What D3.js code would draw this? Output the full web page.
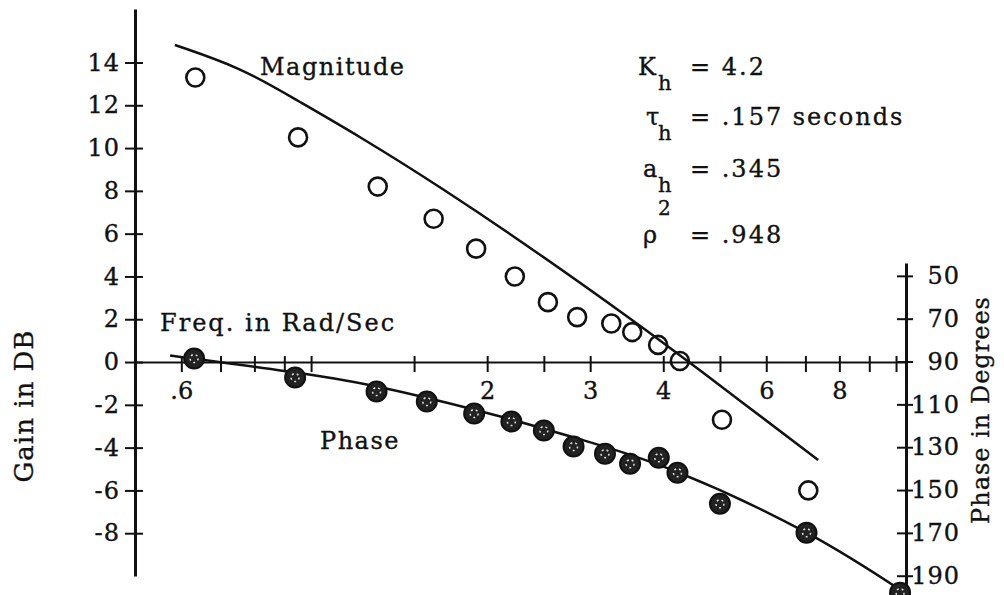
<!DOCTYPE html>
<html>
<head>
<meta charset="utf-8">
<script src="https://cdn.jsdelivr.net/npm/d3@7"></script>
<style>
body { margin: 0; background: #fff; }
svg { display: block; }
text { font-family: "DejaVu Serif", serif; fill: #111; stroke: #111; stroke-width: 0.35px; }
</style>
</head>
<body>
<div id="chart"></div>
<script>
// measured gain (open circles)
var gainFreq = [0.634, 0.95, 1.30, 1.62, 1.915, 2.23, 2.54, 2.85, 3.26, 3.54, 3.92, 4.27, 5.04, 7.08];
var gainDb   = [13.3, 10.5, 8.2, 6.7, 5.3, 4.0, 2.8, 2.1, 1.8, 1.4, 0.8, 0.05, -2.7, -6.0];
// measured phase (filled circles)
var phaseFreq = [0.631, 0.939, 1.294, 1.577, 1.90, 2.20, 2.50, 2.81, 3.18, 3.51, 3.93, 4.23, 5.00, 7.03, 10.16];
var phaseDeg  = [88.6, 97.5, 104.0, 108.7, 114.3, 118.0, 122.2, 129.7, 133.0, 137.7, 134.9, 141.9, 156.4, 169.9, 197.9];
// model curves
var fitGainFreq = [0.585, 0.76, 0.931, 1.212, 1.661, 2.462, 3.65, 4.44, 7.36];
var fitGainDb   = [14.82, 13.75, 12.34, 10.54, 8.20, 5.05, 1.71, -0.02, -4.58];
var fitPhaseFreq = [0.574, 0.992, 1.417, 2.107, 2.89, 4.21, 7.03, 10.28];
var fitPhaseDeg  = [87.2, 96.1, 104.0, 115.7, 126.4, 141.4, 169.9, 197.5];

var freqTicks = [0.6, 0.7, 0.8, 0.9, 1, 1.5, 2, 2.5, 3, 4, 5, 6, 7, 8, 9, 10];
var freqLabels = { 0.6: ".6", 2: "2", 3: "3", 4: "4", 6: "6", 8: "8" };
var gainTicks = [-8, -6, -4, -2, 0, 2, 4, 6, 8, 10, 12, 14];
var phaseTicks = [50, 70, 90, 110, 130, 150, 170, 190];

var params = [
	{ sym: "K", sub: "h", sup: "", val: "= 4.2" },
	{ sym: "\u03c4", sub: "h", sup: "", val: "= .157 seconds" },
	{ sym: "a", sub: "h", sup: "", val: "= .345" },
	{ sym: "\u03c1", sub: "", sup: "2", val: "= .948" }
];

var width = 1004, height = 595;

var svg = d3.select("#chart").append("svg")
	.attr("width", width)
	.attr("height", height);

var x = d3.scaleLog().domain([0.5, 10.4]).range([135, 906]);
var yGain = d3.scaleLinear().domain([-10, 16.5]).range([576, 9]);
var yPhase = d3.scaleLinear().domain([44, 199]).range([263, 595]);

// left axis (gain)
var left = svg.append("g")
	.attr("transform", "translate(" + x.range()[0] + ",0)")
	.call(d3.axisLeft(yGain).tickValues(gainTicks).tickSize(10).tickSizeOuter(0).tickPadding(5)
		.tickFormat(function(d) { return String(d); }));
left.select(".domain").attr("stroke-width", 3);
left.selectAll(".tick line").attr("x1", 8).attr("x2", -10).attr("stroke-width", 2);
left.selectAll(".tick text").attr("font-size", 24).attr("font-family", "DejaVu Serif").style("letter-spacing", "1px");

// frequency axis along 0 dB
var bottom = svg.append("g")
	.attr("transform", "translate(0," + yGain(0) + ")")
	.call(d3.axisBottom(x).tickValues(freqTicks).tickSize(10).tickSizeOuter(0)
		.tickFormat(function(d) { return freqLabels[d] || ""; }));
bottom.select(".domain").attr("stroke-width", 2);
bottom.selectAll(".tick line").attr("y1", -6).attr("y2", 10).attr("stroke-width", 2);
bottom.selectAll(".tick text").attr("y", 20).attr("font-size", 24).attr("font-family", "DejaVu Serif");

// right axis (phase)
var right = svg.append("g")
	.attr("transform", "translate(" + x.range()[1] + ",0)")
	.call(d3.axisRight(yPhase).tickValues(phaseTicks).tickSize(7).tickSizeOuter(0));
right.select(".domain").attr("stroke-width", 3);
right.selectAll(".tick line").attr("x1", -9).attr("x2", 7).attr("stroke-width", 2);
right.selectAll(".tick text").attr("x", 54).attr("text-anchor", "end")
	.attr("font-size", 24).attr("font-family", "DejaVu Serif").style("letter-spacing", "1px");

svg.selectAll(".domain, .tick line").attr("stroke", "#111");

// model curves
var gainLine = d3.line()
	.x(function(d) { return x(d[0]); })
	.y(function(d) { return yGain(d[1]); })
	.curve(d3.curveBasis);
var phaseLine = d3.line()
	.x(function(d) { return x(d[0]); })
	.y(function(d) { return yPhase(d[1]); })
	.curve(d3.curveNatural);

svg.append("path")
	.datum(d3.zip(fitGainFreq, fitGainDb))
	.attr("d", gainLine)
	.attr("fill", "none").attr("stroke", "#111").attr("stroke-width", 2.5);
svg.append("path")
	.datum(d3.zip(fitPhaseFreq, fitPhaseDeg))
	.attr("d", phaseLine)
	.attr("fill", "none").attr("stroke", "#111").attr("stroke-width", 2.5);

// data points
svg.selectAll(".gainpt")
	.data(d3.zip(gainFreq, gainDb))
	.enter().append("circle")
	.attr("class", "gainpt")
	.attr("cx", function(d) { return x(d[0]); })
	.attr("cy", function(d) { return yGain(d[1]); })
	.attr("r", 9)
	.attr("fill", "none").attr("stroke", "#111").attr("stroke-width", 2.6);

svg.selectAll(".phasept")
	.data(d3.zip(phaseFreq, phaseDeg))
	.enter().append("circle")
	.attr("class", "phasept")
	.attr("cx", function(d) { return x(d[0]); })
	.attr("cy", function(d) { return yPhase(d[1]); })
	.attr("r", 10)
	.attr("fill", "#222").attr("stroke", "#111").attr("stroke-width", 2);

// speckle inside the filled points
svg.selectAll(".speck")
	.data(d3.zip(phaseFreq, phaseDeg))
	.enter().append("circle")
	.attr("class", "speck")
	.attr("cx", function(d) { return x(d[0]); })
	.attr("cy", function(d) { return yPhase(d[1]); })
	.attr("r", 4)
	.attr("fill", "none").attr("stroke", "#ddd").attr("stroke-width", 1.5)
	.attr("stroke-dasharray", "2,3");

// labels
svg.append("text").attr("x", 260).attr("y", 75).attr("font-size", 24)
	.style("letter-spacing", "1.5px").text("Magnitude");
svg.append("text").attr("x", 160).attr("y", 331).attr("font-size", 24)
	.style("letter-spacing", "2px").text("Freq. in Rad/Sec");
svg.append("text").attr("x", 320).attr("y", 449).attr("font-size", 24)
	.style("letter-spacing", "1.5px").text("Phase");

svg.append("text")
	.attr("transform", "translate(33,406) rotate(-90)")
	.attr("text-anchor", "middle").attr("font-size", 26)
	.style("letter-spacing", "1px").text("Gain in DB");
svg.append("text")
	.attr("transform", "translate(989,410) rotate(-90)")
	.attr("text-anchor", "middle").attr("font-size", 24)
	.style("letter-spacing", "1px").text("Phase in Degrees");

// fitted parameters
var rowY = [75, 125, 177, 243];
var symX = [638, 646, 643, 643];
var block = svg.append("g");
params.forEach(function(p, i) {
	block.append("text").attr("x", symX[i]).attr("y", rowY[i]).attr("font-size", 24).text(p.sym);
	if (p.sub) {
		block.append("text").attr("x", 658).attr("y", rowY[i] + 15).attr("font-size", 21).text(p.sub);
	}
	if (p.sup) {
		block.append("text").attr("x", 658).attr("y", rowY[i] - 28).attr("font-size", 20).text(p.sup);
	}
	block.append("text").attr("x", 690).attr("y", rowY[i]).attr("font-size", 24)
		.style("letter-spacing", "2px").text(p.val);
});
</script>
</body>
</html>
